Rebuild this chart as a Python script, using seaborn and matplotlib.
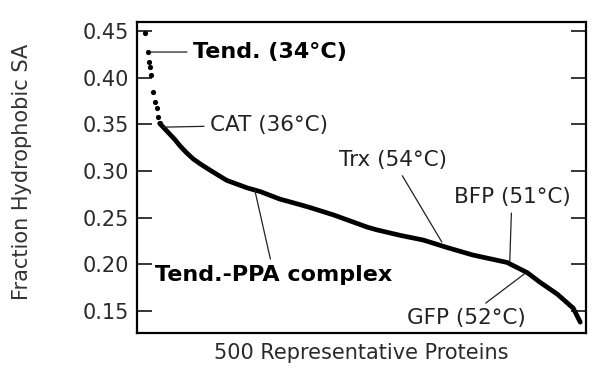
import matplotlib
matplotlib.use("Agg")
import matplotlib.pyplot as plt
import seaborn as sns
import numpy as np
import pandas as pd

# ---- data ----
# sparse top points (rank index, fraction hydrophobic SA)
dot_idx = [3, 7, 8, 9, 10, 12, 15, 17, 18, 20]
dot_val = [0.448, 0.428, 0.417, 0.411, 0.403, 0.385, 0.374, 0.367, 0.358, 0.351]
# dense part of the ranked curve
line_idx = [20, 24, 29, 37, 43, 50, 58, 67, 77, 96, 119, 134, 156, 179, 190, 217, 255,
            266, 293, 319, 346, 375, 414, 437, 451, 471, 489, 497]
line_val = [0.351, 0.347, 0.342, 0.334, 0.327, 0.320, 0.313, 0.307, 0.301, 0.290, 0.282, 0.278,
            0.270, 0.264, 0.261, 0.253, 0.240, 0.237, 0.231, 0.226, 0.218, 0.210,
            0.202, 0.191, 0.181, 0.168, 0.153, 0.138]
yticks = [0.15, 0.20, 0.25, 0.30, 0.35, 0.40, 0.45]

# annotations: label, point (idx, val), text position (idx, val), bold
ann_labels = ["Tend. (34°C)", "CAT (36°C)", "Trx (54°C)", "BFP (51°C)",
              "GFP (52°C)", "Tend.-PPA complex"]
ann_xy = [(9, 0.4275), (24, 0.347), (340, 0.2239), (417, 0.2024),
          (434, 0.190), (128, 0.279)]
ann_text = [(57.8, 0.4275), (77.1, 0.3493), (284.6, 0.3117), (419.5, 0.2721),
            (367.3, 0.1424), (149.7, 0.1885)]
ann_bold = [True, False, False, False, False, True]
ann_ha = ["left", "left", "center", "center", "center", "center"]

sns.set_style("white")
plt.rcParams['font.family'] = ['DejaVu Sans']

fig = plt.figure(figsize=(6.0, 3.73), dpi=100)
ax = fig.add_axes([137/600, 1-333/373, 449/600, 311/373])

df_line = pd.DataFrame({"idx": line_idx, "val": line_val})
df_dot = pd.DataFrame({"idx": dot_idx, "val": dot_val})
sns.lineplot(data=df_line, x="idx", y="val", ax=ax, color="black", lw=3.4,
             solid_capstyle="round", solid_joinstyle="round")
sns.scatterplot(data=df_dot, x="idx", y="val", ax=ax, color="black", s=14,
                edgecolor="black", linewidth=0)

ax.set_xlim(-5.7, 503.5)
ax.set_ylim(0.1264, 0.4597)
ax.set_xticks([])
ax.set_yticks(yticks)
ax.set_yticklabels([f"{t:.2f}" for t in yticks])
ax.tick_params(axis="y", direction="in", length=11, width=1.3, left=True,
               right=True, labelsize=15, pad=6, labelcolor="#2a2a2a")
for s in ax.spines.values():
    s.set_linewidth(1.6)
    s.set_color("black")

ax.set_xlabel("500 Representative Proteins", fontsize=15, color="#2a2a2a",
              labelpad=7)
ax.set_ylabel("")
fig.text(22/600, 1-172/373, "Fraction Hydrophobic SA", rotation=90,
         ha="center", va="center", fontsize=15, color="#333333")

for lab, xy, xt, b, ha in zip(ann_labels, ann_xy, ann_text, ann_bold, ann_ha):
    ax.annotate(lab, xy=xy, xytext=xt, ha=ha, va="center",
                fontsize=16 if b else 15.5,
                fontweight="bold" if b else "normal",
                color="black" if b else "#222222",
                arrowprops=dict(arrowstyle="-", color="#222222", lw=0.9,
                                shrinkA=2, shrinkB=0))

fig.savefig("out.png", dpi=100)
